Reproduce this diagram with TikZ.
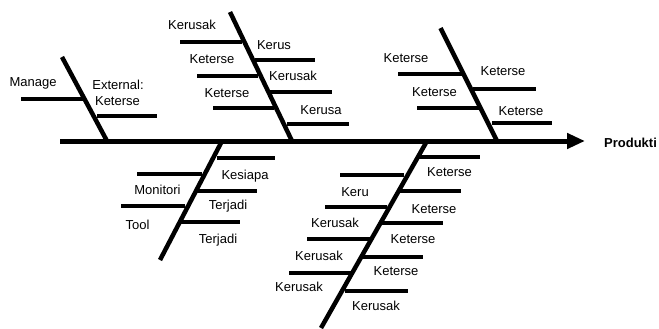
\documentclass[tikz,border=0pt]{standalone}
\usepackage{fontspec}
\setmainfont{Liberation Sans}
\usetikzlibrary{arrows.meta}
\begin{document}
\begin{tikzpicture}[x=1pt,y=-1pt,
  spine/.style={line width=5pt},
  bone/.style={line width=4.5pt},
  twig/.style={line width=3.5pt},
  lbl/.style={anchor=base,inner sep=0pt,font=\fontsize{13}{15}\selectfont},
  ttl/.style={anchor=base,inner sep=0pt,font=\fontsize{13}{15}\selectfont\bfseries}]
\useasboundingbox (0,0) rectangle (659,329);
% spine
\coordinate (s0) at (60,141);
\coordinate (s1) at (585,141);
\draw[spine,-{Triangle[length=18pt,width=15pt]}] (s0) -- (s1);
\node[ttl] (prod) at (630.5,147) {Produkti};
% bone A
\draw[bone] (62,57) -- (107,141);
\draw[twig] (21,99) -- (83,99);
\draw[twig] (97,116) -- (157,116);
\node[lbl] (a1) at (33,86) {Manage};
\node[lbl] (a2) at (118,90) {External:};
\node[lbl] (a3) at (117.5,106) {Keterse};
% bone B
\draw[bone] (230,12) -- (292,141);
\draw[twig] (180,42) -- (242,42);
\draw[twig] (255,60) -- (315,60);
\draw[twig] (197,76) -- (258,76);
\draw[twig] (270,92) -- (332,92);
\draw[twig] (213,108) -- (274,108);
\draw[twig] (287,124) -- (349,124);
\node[lbl] (b1) at (192,30) {Kerusak};
\node[lbl] (b2) at (274,50) {Kerus};
\node[lbl] (b3) at (212,64) {Keterse};
\node[lbl] (b4) at (293,81) {Kerusak};
\node[lbl] (b5) at (227,97) {Keterse};
\node[lbl] (b6) at (321,114) {Kerusa};
% bone C
\draw[bone] (440.5,28) -- (497,141);
\draw[twig] (398,74) -- (463,74);
\draw[twig] (473,89) -- (536,89);
\draw[twig] (417,108) -- (480,108);
\draw[twig] (492,123) -- (552,123);
\node[lbl] (c1) at (406,63) {Keterse};
\node[lbl] (c2) at (503,76) {Keterse};
\node[lbl] (c3) at (434.5,96) {Keterse};
\node[lbl] (c4) at (521,115) {Keterse};
% bone D
\draw[bone] (222,141) -- (160,260);
\draw[twig] (217,158) -- (275,158);
\draw[twig] (137,174) -- (202,174);
\draw[twig] (197,191) -- (257,191);
\draw[twig] (121,206) -- (185,206);
\draw[twig] (180,222) -- (240,222);
\node[lbl] (d1) at (245,179) {Kesiapa};
\node[lbl] (d2) at (157.5,194) {Monitori};
\node[lbl] (d3) at (228,209) {Terjadi};
\node[lbl] (d4) at (137.5,229) {Tool};
\node[lbl] (d5) at (218,243) {Terjadi};
% bone E
\draw[bone] (427,141) -- (321,328);
\draw[twig] (417,157) -- (480,157);
\draw[twig] (340,175) -- (404,175);
\draw[twig] (400,191) -- (461,191);
\draw[twig] (325,207) -- (387,207);
\draw[twig] (381,223) -- (443,223);
\draw[twig] (307,239) -- (370,239);
\draw[twig] (363,257) -- (423,257);
\draw[twig] (289,273) -- (352,273);
\draw[twig] (345,291) -- (408,291);
\node[lbl] (e1) at (449.5,176) {Keterse};
\node[lbl] (e2) at (355,196) {Keru};
\node[lbl] (e3) at (434,213) {Keterse};
\node[lbl] (e4) at (335,227) {Kerusak};
\node[lbl] (e5) at (413,243) {Keterse};
\node[lbl] (e6) at (319,260) {Kerusak};
\node[lbl] (e7) at (396,275) {Keterse};
\node[lbl] (e8) at (299,291) {Kerusak};
\node[lbl] (e9) at (376,310) {Kerusak};
\end{tikzpicture}
\end{document}
